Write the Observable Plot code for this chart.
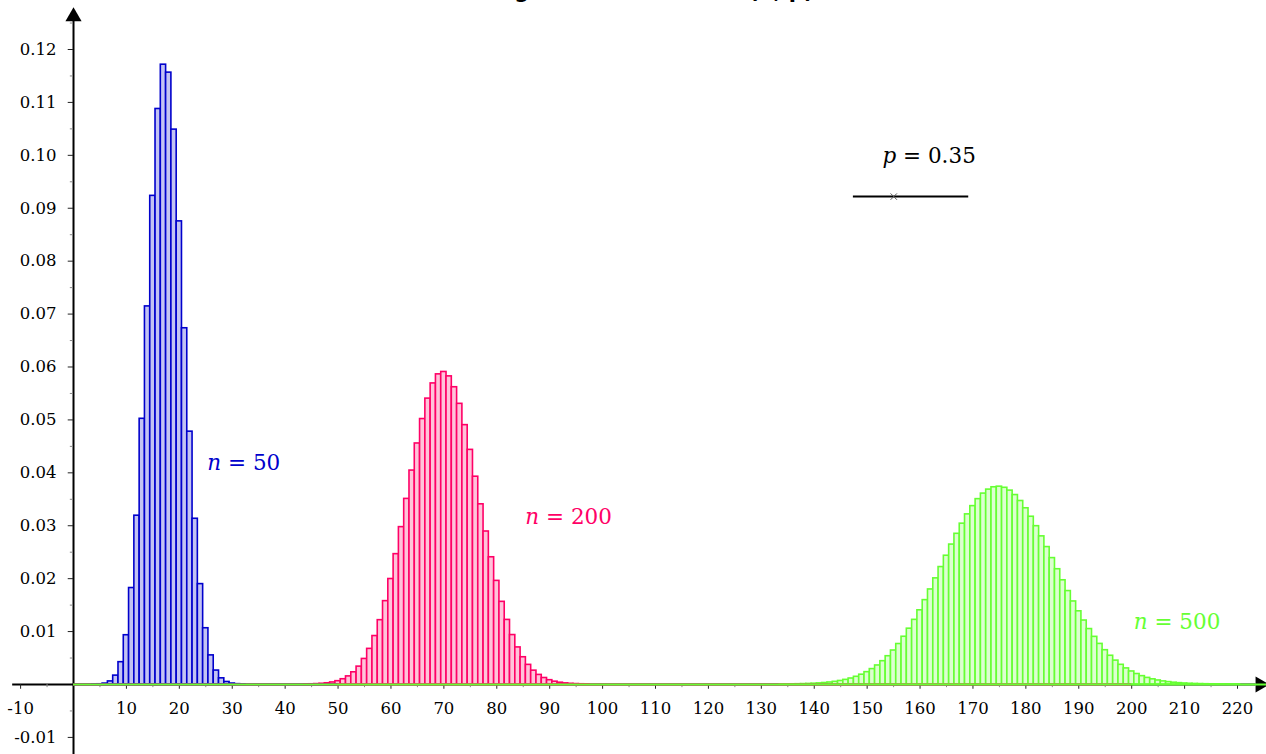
<!DOCTYPE html>
<html><head><meta charset="utf-8">
<script src="https://cdn.jsdelivr.net/npm/d3@7"></script>
<script src="https://cdn.jsdelivr.net/npm/@observablehq/plot@0.6"></script>
<style>
html,body{margin:0;padding:0;background:#fff;overflow:hidden}
#wrap{position:relative;width:1266px;height:754px;overflow:hidden}
#title{position:absolute;top:-21px;left:0;width:1266px;text-align:center;font:bold 21px "DejaVu Sans",sans-serif;color:#000;z-index:2}
#chart{position:absolute;top:0;left:0}
</style></head><body>
<div id="wrap"><div id="title">Histogrammes de la loi B(n, p)</div><div id="chart"></div></div>
<script>
// ---- data: binomial probabilities ----
const seriesN = [50, 200, 500];
const seriesColor = ["#0000cc", "#ff0066", "#66ff33"];
const seriesFill = ["#c3c3f3", "#ffc3da", "#dcffd0"];
const probability = 0.35;

const start50 = 4;
const values50 = [0.0000086, 0.0000424, 0.000171, 0.000580, 0.001678, 0.004217, 0.009310, 0.01823, 0.03190, 0.05021,
  0.07145, 0.09234, 0.10876, 0.11713, 0.11563, 0.10486, 0.08752, 0.06732, 0.04778, 0.03132,
  0.01897, 0.01063, 0.005502, 0.002634, 0.001165, 0.000476, 0.000179, 0.0000623, 0.0000199];

const start200 = 44;
const values200 = [0.0000225, 0.0000420, 0.0000763, 0.000135, 0.000231, 0.000386, 0.000627, 0.000993, 0.001532, 0.002304,
  0.003378, 0.004828, 0.006731, 0.009156, 0.012155, 0.015752, 0.019933, 0.024633, 0.029737, 0.035074,
  0.040428, 0.045547, 0.050165, 0.054024, 0.056896, 0.058609, 0.059060, 0.058228, 0.056175, 0.053038,
  0.049013, 0.044338, 0.039267, 0.034050, 0.028912, 0.024042, 0.019580, 0.015619, 0.012205, 0.009343,
  0.007007, 0.005149, 0.003708, 0.002616, 0.001809, 0.001226, 0.000814, 0.000530, 0.000338, 0.000211,
  0.000129, 0.0000777, 0.0000458, 0.0000264];

const start500 = 134;
const values500 = [0.0000180, 0.0000263, 0.0000380, 0.0000544, 0.0000770, 0.000108, 0.000150, 0.000206, 0.000280, 0.000378,
  0.000505, 0.000667, 0.000873, 0.001132, 0.001454, 0.001850, 0.002331, 0.002909, 0.003596, 0.004404,
  0.005343, 0.006422, 0.007648, 0.009023, 0.010547, 0.012216, 0.014019, 0.015941, 0.017962, 0.020056,
  0.022192, 0.024333, 0.026442, 0.028476, 0.030393, 0.032150, 0.033707, 0.035026, 0.036075, 0.036829,
  0.037269, 0.037384, 0.037172, 0.036639, 0.035800, 0.034677, 0.033299, 0.031700, 0.029918, 0.027994,
  0.025969, 0.023885, 0.021781, 0.019693, 0.017654, 0.015693, 0.013831, 0.012088, 0.010475, 0.009001,
  0.007670, 0.006481, 0.005431, 0.004513, 0.003719, 0.003039, 0.002463, 0.001979, 0.001577, 0.001247,
  0.000977, 0.000760, 0.000586, 0.000448, 0.000340, 0.000256, 0.000191, 0.000141, 0.000104, 0.0000757,
  0.0000547, 0.0000391, 0.0000278, 0.0000196, 0.0000137, 0.0000095, 0.0000066];

// tick labels
const xTickValues = [-10, 10, 20, 30, 40, 50, 60, 70, 80, 90, 100, 110, 120, 130, 140, 150, 160, 170, 180, 190, 200, 210, 220];
const xMinorTicks = [-5, 5, 15, 25, 35, 45, 55, 65, 75, 85, 95, 105, 115, 125, 135, 145, 155, 165, 175, 185, 195, 205, 215];
const yTickValues = [-0.01, 0.01, 0.02, 0.03, 0.04, 0.05, 0.06, 0.07, 0.08, 0.09, 0.10, 0.11, 0.12];
const yTickLabels = ["-0.01", "0.01", "0.02", "0.03", "0.04", "0.05", "0.06", "0.07", "0.08", "0.09", "0.10", "0.11", "0.12"];
const yMinorTicks = [-0.005, 0.005, 0.015, 0.025, 0.035, 0.045, 0.055, 0.065, 0.075, 0.085, 0.095, 0.105, 0.115, 0.125];

// annotations
const seriesLabelX = [25.3, 85.4, 200.4];
const seriesLabelY = [0.0418, 0.0316, 0.0117];
const slider = {min: 147.4, max: 169.2, y: 0.0922, labelX: 152.9, labelY: 0.0998};

// ---- build table ----
const starts = [start50, start200, start500];
const vals = [values50, values200, values500];
const bars = [];
seriesN.forEach((n, s) => vals[s].forEach((v, i) => bars.push({s, k: starts[s] + i, v})));
const zeroLines = seriesN.map((n, s) => ({s, n}));
const labels = seriesN.map((n, s) => ({s, x: seriesLabelX[s], y: seriesLabelY[s], t: "n = " + n}));

const xDomain = [-13.8, 225.48];
const yDomain = [-0.01323, 0.12926];

const plot = Plot.plot({
  width: 1266, height: 754,
  marginTop: 0, marginBottom: 0, marginLeft: 0, marginRight: 0,
  x: {domain: xDomain, axis: null},
  y: {domain: yDomain, axis: null},
  style: {fontFamily: "DejaVu Serif, serif", fontSize: "16px", background: "white", color: "#000"},
  marks: [
    // axes lines
    Plot.ruleY([0], {x1: -11.5, x2: 223.5, stroke: "#000", strokeWidth: 2}),
    Plot.ruleX([0], {y1: yDomain[0], y2: 0.1255, stroke: "#000", strokeWidth: 2}),
    Plot.dot([{x: 0, y: 0.1262}], {x: "x", y: "y", symbol: "triangle", r: 6, fill: "#000", stroke: "none"}),
    Plot.dot([{x: 224.3, y: 0}], {x: "x", y: "y", symbol: "triangle", r: 6, fill: "#000", stroke: "none", rotate: 90}),
    // ticks
    Plot.ruleX(xTickValues, {x: d => d, y1: 0, y2: -0.0009, stroke: "#222", strokeWidth: 1}),
    Plot.ruleX(xMinorTicks, {x: d => d, y1: 0, y2: -0.0006, stroke: "#888", strokeWidth: 1}),
    Plot.ruleY(yTickValues, {y: d => d, x1: -1.0, x2: 0, stroke: "#222", strokeWidth: 1}),
    Plot.ruleY(yMinorTicks, {y: d => d, x1: -0.6, x2: 0, stroke: "#888", strokeWidth: 1}),
    // tick labels
    Plot.text(xTickValues, {x: d => d, y: 0, dy: 24, text: d => String(d), fill: "#000", fontSize: 16.5}),
    Plot.text(yTickValues, {x: 0, y: d => d, dx: -17, text: (d, i) => yTickLabels[i], textAnchor: "end", fill: "#000", fontSize: 16.5}),
    // bars
    Plot.rectY(bars, {
      x1: d => d.k - 0.5, x2: d => d.k + 0.5, y1: 0, y2: "v",
      fill: d => seriesFill[d.s], stroke: d => seriesColor[d.s], strokeWidth: 1.6
    }),
    // zero-height bars along the axis
    Plot.ruleY(zeroLines, {y: 0, x1: 0, x2: "n", stroke: d => seriesColor[d.s], strokeWidth: 2.2, clip: true}),
    // series labels
    Plot.text(labels, {x: "x", y: "y", text: "t", fill: d => seriesColor[d.s], textAnchor: "start", fontSize: 21.5}),
    // slider
    Plot.ruleY([slider], {y: "y", x1: "min", x2: "max", stroke: "#000", strokeWidth: 2}),
    Plot.dot([slider], {x: d => d.min + probability * (d.max - d.min), y: "y", symbol: "times", r: 3, stroke: "#555", strokeWidth: 1}),
    Plot.text([slider], {x: "labelX", y: "labelY", text: d => "p = " + probability.toFixed(2), textAnchor: "start", fill: "#000", fontSize: 21.5})
  ]
});

// italic variable letters
d3.select(plot).selectAll("text").each(function () {
  const s = this.textContent;
  const m = s.match(/^([np]) = (.*)$/);
  if (m) {
    const t = d3.select(this);
    t.text("");
    t.append("tspan").attr("font-style", "italic").text(m[1]);
    t.append("tspan").text(" = " + m[2]);
  }
});

document.getElementById("chart").appendChild(plot);
</script>
</body></html>
